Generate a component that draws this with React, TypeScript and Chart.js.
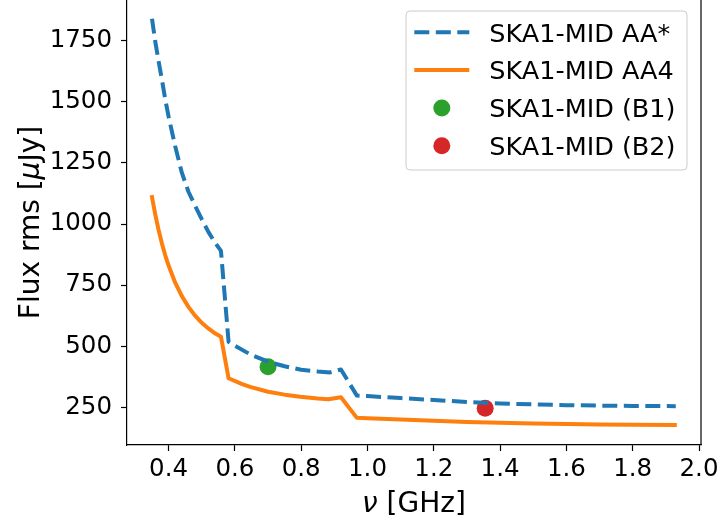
import React, { useEffect, useRef } from "react";
import { Chart, registerables } from "chart.js";

Chart.register(...registerables);

const FONT = "'DejaVu Sans', sans-serif";

// SKA1-MID AA* (dashed blue)
const aaStarFreq = [0.35, 0.36, 0.37, 0.38, 0.39, 0.40, 0.42, 0.44, 0.46, 0.48, 0.50, 0.52, 0.54, 0.558, 0.581, 0.60, 0.65, 0.70, 0.75, 0.80, 0.85, 0.887, 0.92, 0.968, 1.0, 1.1, 1.2, 1.3, 1.4, 1.5, 1.6, 1.7, 1.8, 1.93];
const aaStarRms = [1840, 1745, 1665, 1590, 1510, 1440, 1318, 1210, 1132, 1075, 1020, 968, 924, 890, 518, 502, 464, 437, 418, 404, 397, 393, 405, 298, 296, 288, 280, 272, 266, 262, 259, 257, 256, 255];

// SKA1-MID AA4 (solid orange)
const aa4Freq = [0.35, 0.36, 0.37, 0.38, 0.39, 0.40, 0.42, 0.44, 0.46, 0.48, 0.50, 0.52, 0.54, 0.558, 0.581, 0.62, 0.646, 0.70, 0.75, 0.797, 0.85, 0.882, 0.92, 0.968, 1.0, 1.1, 1.2, 1.3, 1.4, 1.5, 1.6, 1.7, 1.8, 1.927];
const aa4Rms = [1110, 1038, 975, 920, 872, 830, 760, 705, 661, 625, 596, 573, 553, 539, 369, 346, 334, 314, 302, 293, 286, 283, 291, 207, 205, 200, 195, 190, 187, 184, 182, 180, 179, 178];

// Single points
const b1Freq = [0.70];
const b1Rms = [416];
const b2Freq = [1.355];
const b2Rms = [246];

const xTicks = [0.4, 0.6, 0.8, 1.0, 1.2, 1.4, 1.6, 1.8, 2.0];
const yTicks = [250, 500, 750, 1000, 1250, 1500, 1750];

const seriesLabels = ["SKA1-MID AA*", "SKA1-MID AA4", "SKA1-MID (B1)", "SKA1-MID (B2)"];
const seriesColors = ["#1f77b4", "#ff7f0e", "#2ca02c", "#d62728"];

// axis titles as [text, italic] parts (math symbols in italics)
const xLabelParts: [string, boolean][] = [["ν", true], [" [GHz]", false]];
const yLabelParts: [string, boolean][] = [["Flux rms [", false], ["μ", true], ["Jy]", false]];

const toXY = (xs: number[], ys: number[]) => xs.map((x, i) => ({ x, y: ys[i] }));

const drawParts = (ctx: any, parts: [string, boolean][], size: number, cx: number, baseline: number) => {
  const fonts = parts.map(([, it]) => `${it ? "italic " : ""}${size}px ${FONT}`);
  let total = 0;
  const widths = parts.map(([t], i) => {
    ctx.font = fonts[i];
    const w = ctx.measureText(t).width;
    total += w;
    return w;
  });
  let x = cx - total / 2;
  parts.forEach(([t], i) => {
    ctx.font = fonts[i];
    ctx.fillText(t, x, baseline);
    x += widths[i];
  });
};

const titlePlugin = {
  id: "axisTitles",
  afterDraw(chart: any) {
    const { ctx, chartArea } = chart;
    ctx.save();
    ctx.fillStyle = "#000";
    ctx.textAlign = "left";
    ctx.textBaseline = "alphabetic";
    // x title
    drawParts(ctx, xLabelParts, 28, (chartArea.left + chartArea.right) / 2, chartArea.bottom + 66.5);
    // y title (rotated)
    ctx.translate(38.8, (chartArea.top + chartArea.bottom) / 2);
    ctx.rotate(-Math.PI / 2);
    drawParts(ctx, yLabelParts, 28, 0, 0);
    ctx.restore();
  },
};

const spinePlugin = {
  id: "rightSpine",
  afterDraw(chart: any) {
    const { ctx, chartArea } = chart;
    ctx.save();
    ctx.strokeStyle = "#000";
    ctx.lineWidth = 1.2;
    ctx.beginPath();
    ctx.moveTo(chartArea.right, chartArea.top);
    ctx.lineTo(chartArea.right, chartArea.bottom);
    ctx.stroke();
    ctx.restore();
  },
};

const legendPlugin = {
  id: "customLegend",
  afterDraw(chart: any) {
    const { ctx, chartArea } = chart;
    const w = 281;
    const h = 159;
    const left = chartArea.right - 14 - w;
    const top = chartArea.top + 11;
    ctx.save();
    const r = 4;
    ctx.beginPath();
    ctx.moveTo(left + r, top);
    ctx.lineTo(left + w - r, top);
    ctx.quadraticCurveTo(left + w, top, left + w, top + r);
    ctx.lineTo(left + w, top + h - r);
    ctx.quadraticCurveTo(left + w, top + h, left + w - r, top + h);
    ctx.lineTo(left + r, top + h);
    ctx.quadraticCurveTo(left, top + h, left, top + h - r);
    ctx.lineTo(left, top + r);
    ctx.quadraticCurveTo(left, top, left + r, top);
    ctx.closePath();
    ctx.fillStyle = "rgba(255,255,255,0.8)";
    ctx.fill();
    ctx.strokeStyle = "#cccccc";
    ctx.lineWidth = 1;
    ctx.stroke();

    const rowH = 37.8;
    const firstY = top + 21.3;
    const hx0 = left + 8.3;
    const hx1 = left + 63.3;
    const tx = left + 83.3;
    ctx.font = `25.5px ${FONT}`;
    ctx.textBaseline = "alphabetic";
    ctx.textAlign = "left";
    seriesLabels.forEach((lab, i) => {
      const cy = firstY + i * rowH;
      ctx.strokeStyle = seriesColors[i];
      ctx.fillStyle = seriesColors[i];
      if (i === 0) {
        ctx.lineWidth = 4;
        ctx.lineCap = "butt";
        ctx.setLineDash([15, 6.5]);
        ctx.beginPath();
        ctx.moveTo(hx0, cy);
        ctx.lineTo(hx1, cy);
        ctx.stroke();
        ctx.setLineDash([]);
      } else if (i === 1) {
        ctx.lineWidth = 4;
        ctx.lineCap = "butt";
        ctx.beginPath();
        ctx.moveTo(hx0, cy);
        ctx.lineTo(hx1, cy);
        ctx.stroke();
      } else {
        ctx.beginPath();
        ctx.arc((hx0 + hx1) / 2, cy, 8.5, 0, Math.PI * 2);
        ctx.fill();
      }
      ctx.fillStyle = "#000";
      ctx.fillText(lab, tx, cy + 0.365 * 25.5);
    });
    ctx.restore();
  },
};

export default function App() {
  const canvasRef = useRef<HTMLCanvasElement | null>(null);

  useEffect(() => {
    if (!canvasRef.current) return;
    const chart = new Chart(canvasRef.current, {
      type: "line",
      data: {
        datasets: [
          {
            label: seriesLabels[0],
            data: toXY(aaStarFreq, aaStarRms),
            borderColor: seriesColors[0],
            backgroundColor: seriesColors[0],
            borderWidth: 4,
            borderDash: [15, 6.5],
            borderCapStyle: "butt",
            borderJoinStyle: "round",
            pointRadius: 0,
            tension: 0,
            fill: false,
          },
          {
            label: seriesLabels[1],
            data: toXY(aa4Freq, aa4Rms),
            borderColor: seriesColors[1],
            backgroundColor: seriesColors[1],
            borderWidth: 4,
            borderCapStyle: "square",
            borderJoinStyle: "round",
            pointRadius: 0,
            tension: 0,
            fill: false,
          },
          {
            label: seriesLabels[2],
            data: toXY(b1Freq, b1Rms),
            showLine: false,
            pointRadius: 8.5,
            pointBorderWidth: 0,
            pointBackgroundColor: seriesColors[2],
            borderColor: seriesColors[2],
          },
          {
            label: seriesLabels[3],
            data: toXY(b2Freq, b2Rms),
            showLine: false,
            pointRadius: 8.5,
            pointBorderWidth: 0,
            pointBackgroundColor: seriesColors[3],
            borderColor: seriesColors[3],
          },
        ],
      },
      options: {
        responsive: false,
        animation: false,
        devicePixelRatio: 1,
        layout: { autoPadding: false, padding: { left: 0, right: 18, top: 0, bottom: 0 } },
        plugins: {
          legend: { display: false },
          tooltip: { enabled: false },
        },
        scales: {
          x: {
            type: "linear",
            min: 0.2746,
            max: 2.006,
            afterBuildTicks: (s: any) => {
              s.ticks = xTicks.map((v) => ({ value: v }));
            },
            afterFit: (s: any) => {
              s.height = 78;
              s.paddingLeft = 0;
              s.paddingRight = 0;
            },
            grid: {
              display: true,
              drawOnChartArea: false,
              drawTicks: true,
              tickLength: 6,
              tickWidth: 1.2,
              color: "#000",
            },
            border: { display: true, color: "#000", width: 1.2 },
            ticks: {
              color: "#000",
              font: { family: FONT, size: 24.5 },
              padding: 4,
              maxRotation: 0,
              autoSkip: false,
              callback: (v: any) => Number(v).toFixed(1),
            },
            title: { display: false },
          },
          y: {
            type: "linear",
            min: 96,
            max: 1916.5,
            afterBuildTicks: (s: any) => {
              s.ticks = yTicks.map((v) => ({ value: v }));
            },
            afterFit: (s: any) => {
              s.width = 127;
              s.paddingTop = 0;
              s.paddingBottom = 0;
            },
            grid: {
              display: true,
              drawOnChartArea: false,
              drawTicks: true,
              tickLength: 6,
              tickWidth: 1.2,
              color: "#000",
            },
            border: { display: true, color: "#000", width: 1.2 },
            ticks: {
              color: "#000",
              font: { family: FONT, size: 24.5 },
              padding: 9,
              autoSkip: false,
              callback: (v: any) => String(Math.round(Number(v))),
            },
            title: { display: false },
          },
        },
      },
      plugins: [spinePlugin, titlePlugin, legendPlugin],
    });
    return () => chart.destroy();
  }, []);

  return (
    <div style={{ position: "fixed", left: 0, top: 0, width: 719, height: 523, background: "#fff" }}>
      <canvas ref={canvasRef} width={719} height={523} style={{ display: "block" }} />
    </div>
  );
}
